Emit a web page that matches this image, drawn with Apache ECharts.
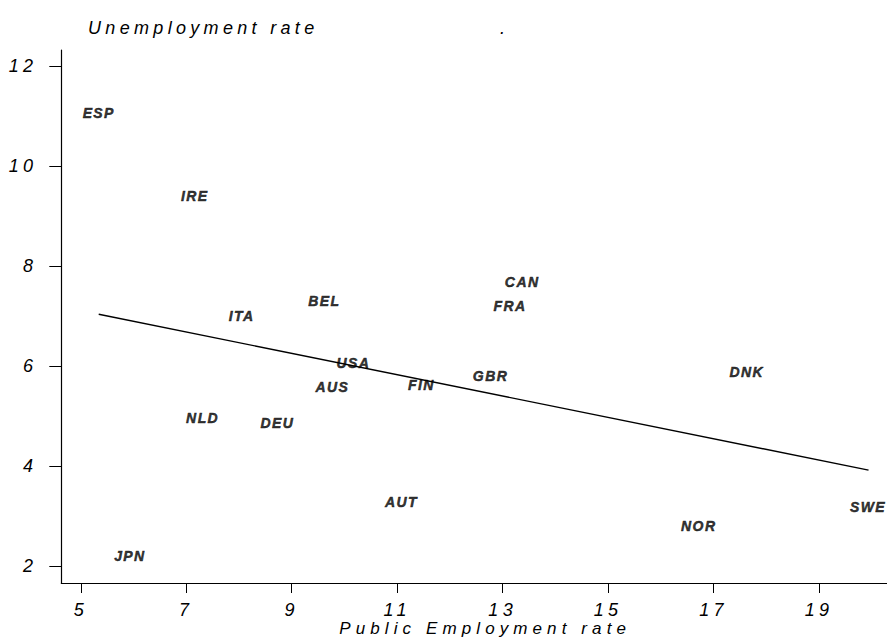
<!DOCTYPE html>
<html><head><meta charset="utf-8">
<script src="https://cdn.jsdelivr.net/npm/echarts@6/dist/echarts.min.js"></script>
<style>
html,body{margin:0;padding:0;background:#fff}
#c{width:887px;height:639px}
#c svg text{letter-spacing:0.24em}
#c svg text[style*="17px"]{letter-spacing:0.3em}
#c svg text[style*="bold"]{letter-spacing:0.1em}
</style></head><body><div id="c"></div>
<script>
const countries = ['ESP','IRE','ITA','BEL','CAN','FRA','USA','AUS','FIN','GBR','DNK','NLD','DEU','AUT','NOR','SWE','JPN'];
const publicEmployment = [5.34, 7.16, 8.05, 9.62, 13.37, 13.14, 10.17, 9.77, 11.46, 12.77, 17.63, 7.31, 8.73, 11.08, 16.72, 19.93, 5.93];
const unemployment = [11.1, 9.44, 7.04, 7.34, 7.72, 7.24, 6.1, 5.62, 5.66, 5.84, 5.92, 5.0, 4.9, 3.32, 2.84, 3.22, 2.24];
const fitX = [5.34, 19.94];
const fitY = [7.04, 3.92];
const xTicks = [5, 7, 9, 11, 13, 15, 17, 19];
const yTicks = [2, 4, 6, 8, 10, 12];

const FONT = 'Liberation Sans, Arial, Helvetica, sans-serif';
const chart = echarts.init(document.getElementById('c'), null, {renderer: 'svg'});
chart.setOption({
  animation: false,
  backgroundColor: '#fff',
  title: {
    text: 'Unemployment rate',
    left: 88, top: 19, padding: 0,
    textStyle: {fontFamily: FONT, fontStyle: 'italic', fontWeight: 'normal', fontSize: 18, color: '#000'}
  },
  graphic: [{
    type: 'text', left: 500, top: 19,
    style: {text: '.', fontFamily: FONT, fontStyle: 'italic', fontSize: 18, fill: '#000'}
  }],
  grid: {left: 61.3, right: 0, top: 50, bottom: 56, containLabel: false, outerBoundsMode: 'none'},
  xAxis: {
    type: 'value', min: 4.63, max: 20.29,
    splitLine: {show: false},
    axisLine: {show: true, onZero: false, lineStyle: {color: '#000', width: 1.2}},
    axisTick: {show: true, length: 10, customValues: xTicks, lineStyle: {color: '#000'}},
    axisLabel: {customValues: xTicks, margin: 20, lineHeight: 14, fontFamily: FONT, fontStyle: 'italic', fontSize: 18, color: '#000'},
    name: 'Public Employment rate', nameLocation: 'middle', nameGap: 37, nameMoveOverlap: false,
    nameTextStyle: {fontFamily: FONT, fontStyle: 'italic', fontSize: 17, lineHeight: 17, color: '#000', padding: [0, 0, 0, 22]}
  },
  yAxis: {
    type: 'value', min: 1.66, max: 12.33,
    splitLine: {show: false},
    axisLine: {show: true, onZero: false, lineStyle: {color: '#000', width: 1.2}},
    axisTick: {show: true, length: 12, customValues: yTicks, lineStyle: {color: '#000'}},
    axisLabel: {customValues: yTicks, margin: 24, fontFamily: FONT, fontStyle: 'italic', fontSize: 18, color: '#000'}
  },
  series: [{
    type: 'scatter',
    symbolSize: 1,
    itemStyle: {color: 'rgba(0,0,0,0)'},
    silent: true,
    label: {
      show: true, position: 'inside', offset: [0, 2], formatter: '{b}',
      fontFamily: FONT, fontStyle: 'italic', fontWeight: 'bold', fontSize: 14, color: '#000',
      textBorderColor: '#000', textBorderWidth: 0.5
    },
    data: countries.map((c, i) => ({name: c, value: [publicEmployment[i], unemployment[i]]}))
  }, {
    type: 'line',
    symbol: 'none',
    silent: true,
    lineStyle: {color: '#000', width: 1.4},
    data: fitX.map((x, i) => [x, fitY[i]])
  }]
});
</script></body></html>
